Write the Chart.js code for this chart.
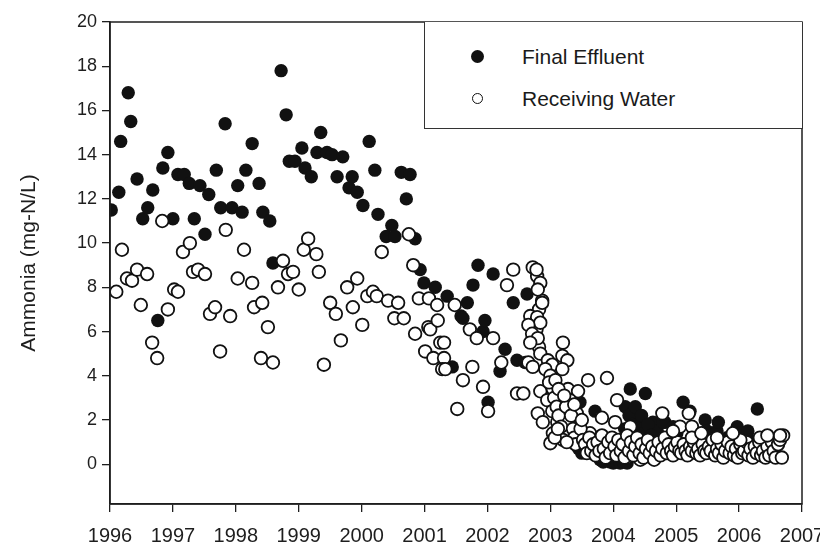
<!DOCTYPE html>
<html>
<head>
<meta charset="utf-8">
<script src="https://cdn.jsdelivr.net/npm/chart.js@4.4.1/dist/chart.umd.min.js"></script>
<style>
  body { margin: 0; background: #fff; }
  #wrap { position: relative; width: 820px; height: 546px; }
  #legendBox {
    position: absolute; left: 424px; top: 22px; width: 377px; height: 106px;
    border: 1.5px solid #333; border-top: none; background: #fff;
    font-family: "Liberation Sans", Arial, sans-serif; font-size: 21px; color: #1a1a1a;
  }
  .row { position: absolute; left: 0; height: 30px; line-height: 30px; }
  .row span.txt { position: absolute; left: 97px; white-space: nowrap; }
  .dot { position: absolute; left: 46px; top: 8px; width: 13px; height: 13px; border-radius: 50%; background: #111; }
  .ring { position: absolute; left: 47px; top: 9px; width: 9px; height: 9px; border-radius: 50%; background: #fff; border: 1.5px solid #111; }
</style>
</head>
<body>
<div id="wrap">
  <canvas id="ammoniaChart" width="820" height="546"></canvas>
  <div id="legendBox">
    <div class="row" style="top:20px"><span class="dot"></span><span class="txt" id="lg0"></span></div>
    <div class="row" style="top:62px"><span class="ring"></span><span class="txt" id="lg1"></span></div>
  </div>
</div>
<script>
// --- data (decimal year, mg-N/L) ---
const seriesNames = ['Final Effluent', 'Receiving Water'];
const xTicks = [1996, 1997, 1998, 1999, 2000, 2001, 2002, 2003, 2004, 2005, 2006, 2007];
const yTicks = [0, 2, 4, 6, 8, 10, 12, 14, 16, 18, 20];

const finalEffluent = [
  [1996.02,11.5],[1996.14,12.3],[1996.17,14.6],[1996.29,16.8],[1996.33,15.5],[1996.43,12.9],[1996.52,11.1],
  [1996.60,11.6],[1996.68,12.4],[1996.76,6.5],[1996.84,13.4],[1996.92,14.1],[1997.00,11.1],[1997.08,13.1],
  [1997.18,13.1],[1997.26,12.7],[1997.34,11.1],[1997.43,12.6],[1997.51,10.4],[1997.57,12.2],[1997.69,13.3],
  [1997.76,11.6],[1997.83,15.4],[1997.94,11.6],[1998.03,12.6],[1998.10,11.4],[1998.16,13.3],[1998.26,14.5],
  [1998.37,12.7],[1998.43,11.4],[1998.54,11.0],[1998.59,9.1],[1998.72,17.8],[1998.80,15.8],[1998.85,13.7],
  [1998.94,13.7],[1999.05,14.3],[1999.10,13.4],[1999.20,13.0],[1999.29,14.1],[1999.35,15.0],[1999.45,14.1],
  [1999.53,14.0],[1999.61,13.0],[1999.70,13.9],[1999.80,12.5],[1999.85,13.0],[1999.93,12.3],[2000.02,11.7],
  [2000.12,14.6],[2000.21,13.3],[2000.26,11.3],[2000.39,10.3],[2000.48,10.8],[2000.53,10.3],[2000.63,13.2],
  [2000.71,12.0],[2000.77,13.1],[2000.85,10.2],[2000.93,8.8],[2000.99,8.2],[2001.17,8.0],[2001.36,7.6],
  [2001.44,4.4],[2001.58,6.7],[2001.61,6.6],[2001.68,7.3],[2001.77,8.1],[2001.85,9.0],[2001.93,6.0],
  [2001.96,6.5],[2002.01,2.8],[2002.09,8.6],[2002.20,4.2],[2002.28,5.2],[2002.41,7.3],[2002.47,4.7],
  [2002.60,4.6],[2002.63,7.7],
  [2003.45,0.7],[2003.47,2.8],[2003.50,0.5],[2003.71,2.4],[2003.79,0.2],[2003.84,0.1],[2003.90,0.3],
  [2003.95,0.1],[2004.00,0.05],[2004.05,0.1],[2004.11,0.05],[2004.16,0.1],[2004.22,0.05],[2004.16,0.8],
  [2004.19,2.6],[2004.27,3.4],[2004.32,2.4],[2004.27,1.4],[2004.38,0.5],[2004.43,2.0],[2004.51,3.2],
  [2004.63,1.9],[2004.70,1.5],[2004.82,1.9],[2004.25,2.2],[2004.30,1.8],[2004.35,2.6],[2004.40,1.6],
  [2004.45,2.2],[2004.33,1.0],[2004.48,1.4],[2004.55,1.8],[2004.60,1.3],[2004.18,1.6],[2004.38,0.7],
  [2004.54,1.1],[2004.79,1.9],[2004.95,1.7],[2005.01,1.4],[2005.11,2.8],[2005.22,2.4],[2005.38,1.1],
  [2005.46,2.0],[2005.49,1.5],[2005.54,1.3],[2005.65,1.5],[2005.67,1.9],[2005.70,1.0],[2005.81,1.2],
  [2005.86,1.2],[2005.97,1.7],[2006.02,1.4],[2006.14,1.5],[2006.17,1.1],[2006.29,2.5],[2006.33,1.0]
];

const receivingWater = [
  [1996.10,7.8],[1996.19,9.7],[1996.27,8.4],[1996.35,8.3],[1996.43,8.8],[1996.49,7.2],[1996.59,8.6],
  [1996.67,5.5],[1996.75,4.8],[1996.83,11.0],[1996.92,7.0],[1997.02,7.9],[1997.08,7.8],[1997.16,9.6],
  [1997.27,10.0],[1997.32,8.7],[1997.40,8.8],[1997.51,8.6],[1997.59,6.8],[1997.67,7.1],[1997.75,5.1],
  [1997.84,10.6],[1997.91,6.7],[1998.03,8.4],[1998.13,9.7],[1998.26,8.2],[1998.29,7.1],[1998.42,7.3],
  [1998.40,4.8],[1998.51,6.2],[1998.59,4.6],[1998.67,8.0],[1998.75,9.2],[1998.83,8.6],[1998.91,8.7],
  [1999.00,7.9],[1999.08,9.7],[1999.15,10.2],[1999.28,9.5],[1999.32,8.7],[1999.40,4.5],[1999.50,7.3],
  [1999.59,6.8],[1999.67,5.6],[1999.77,8.0],[1999.86,7.1],[1999.93,8.4],[2000.01,6.3],[2000.09,7.6],
  [2000.18,7.8],[2000.24,7.6],[2000.32,9.6],[2000.42,7.4],[2000.52,6.6],[2000.58,7.3],[2000.67,6.6],
  [2000.75,10.4],[2000.82,9.0],[2000.85,5.9],[2000.91,7.5],[2001.01,5.1],[2001.07,7.5],[2001.20,7.2],
  [2001.06,6.2],[2001.09,6.1],[2001.21,6.5],[2001.14,4.8],[2001.25,5.5],[2001.31,5.5],[2001.31,4.8],
  [2001.28,4.3],[2001.33,4.3],[2001.48,7.2],[2001.72,6.1],[2001.83,5.7],[2002.09,5.7],[2001.61,3.8],
  [2001.76,4.4],[2001.52,2.5],[2001.93,3.5],[2002.01,2.4],[2002.22,4.6],[2002.31,8.1],[2002.41,8.8],
  [2002.47,3.2],[2002.57,3.2],[2002.65,4.6],[2002.72,8.9],[2002.79,8.5],[2002.84,8.2],[2002.87,7.4],
  [2002.78,8.8],[2002.80,7.9],[2002.82,7.0],[2002.78,6.1],[2002.82,5.3],
  [2002.87,7.3],[2002.68,6.7],[2002.79,6.65],[2002.84,6.4],[2002.65,6.3],[2002.71,5.9],[2002.80,5.7],
  [2002.68,5.5],[2003.20,5.5],[2002.84,5.0],[2003.19,4.9],[2003.27,4.7],[2002.72,4.4],[2002.96,4.7],
  [2003.03,4.5],[2002.92,4.3],[2003.19,4.3],[2003.00,4.0],[2003.60,3.8],[2003.90,3.9],[2002.84,3.3],
  [2003.04,3.4],[2003.28,3.4],[2003.44,3.3],[2002.95,2.9],[2003.15,2.9],[2003.31,2.9],[2002.80,2.3],
  [2003.03,2.4],[2003.20,2.4],[2003.42,2.3],[2002.88,1.9],[2003.11,1.9],[2003.28,2.0],[2003.04,1.4],
  [2003.23,1.4],[2003.44,1.45],[2003.00,0.95],[2003.20,1.1],[2003.63,1.4],[2004.06,2.9],[2003.82,2.1],
  [2004.03,1.9],[2004.27,1.7],[2004.51,1.1],[2004.78,2.3],[2003.58,0.95],[2003.74,0.8],[2003.90,1.0],
  [2004.11,0.8],[2004.32,0.95],[2004.63,0.95],[2004.86,0.8],[2003.68,0.5],[2003.84,0.55],[2004.22,0.3],
  [2004.43,0.2],[2004.62,0.3],
  [2003.06,3.0],[2003.10,2.6],[2003.13,2.2],[2003.17,1.7],[2003.25,2.6],[2003.33,2.2],[2003.36,1.6],
  [2003.38,1.2],[2003.40,0.9],[2003.48,1.6],[2003.52,1.1],[2003.07,1.2],[2003.12,1.6],[2003.26,1.0],
  [2002.98,3.7],[2003.08,3.8],[2003.13,3.4],[2003.22,3.1],[2003.38,2.7],[2003.50,2.0],
  [2003.55,0.9],[2003.58,0.5],[2003.62,1.2],[2003.65,0.6],[2003.68,0.9],[2003.72,0.4],[2003.75,1.0],
  [2003.78,0.6],[2003.82,1.3],[2003.85,0.7],[2003.88,0.3],[2003.92,1.0],[2003.95,0.5],[2003.98,1.2],
  [2004.02,0.8],[2004.05,0.4],[2004.08,1.1],[2004.12,0.6],[2004.15,0.9],[2004.18,0.3],[2004.22,1.3],
  [2004.25,0.6],[2004.28,1.0],[2004.32,0.4],[2004.35,0.8],[2004.38,1.2],[2004.42,0.5],[2004.45,0.9],
  [2004.48,0.3],[2004.52,0.7],[2004.55,1.1],[2004.58,0.5],[2004.62,0.8],[2004.65,0.2],[2004.68,0.6],
  [2004.72,1.0],[2004.75,0.4],[2004.78,0.7],[2004.82,1.2],[2004.85,0.5],[2004.88,0.9],[2004.92,0.6],
  [2004.95,0.4],[2004.98,0.8],[2005.02,1.0],[2005.05,0.6],[2005.08,0.5],[2005.12,0.9],[2005.15,0.6],
  [2005.18,0.4],[2005.22,0.8],[2005.25,0.6],[2005.28,1.0],[2005.32,0.5],[2005.35,0.7],[2005.38,0.4],
  [2005.42,0.9],[2005.45,0.6],[2005.48,0.5],[2005.52,0.8],[2005.55,0.6],[2005.58,1.1],[2005.62,0.4],
  [2005.65,0.7],[2005.68,0.5],[2005.72,0.9],[2005.75,0.3],[2005.78,0.6],[2005.82,1.0],[2005.85,0.5],
  [2005.88,0.8],[2005.92,0.4],[2005.95,0.7],[2005.98,0.3],[2006.02,0.9],[2006.05,0.5],[2006.08,0.6],
  [2006.12,1.0],[2006.15,0.4],[2006.18,0.7],[2006.22,0.3],[2006.25,0.8],[2006.28,0.5],[2006.32,1.0],
  [2006.35,0.4],[2006.38,0.6],[2006.42,0.3],[2006.45,0.8],[2006.48,0.4],[2006.52,1.0],[2006.55,0.6],
  [2006.58,0.3],[2006.62,0.9],[2006.65,1.1],[2006.68,0.3],[2006.70,1.3],
  [2005.06,1.7],[2005.25,1.7],[2005.25,1.2],[2005.65,1.2],[2006.02,1.1],[2006.33,1.2],[2006.65,1.3],
  [2005.20,2.3],[2004.95,1.5],[2005.40,1.4],[2005.90,1.4],[2006.45,1.3]
];

const FONT = '"Liberation Sans", Arial, Helvetica, sans-serif';
const INK = '#1e1e1e';

document.getElementById('lg0').textContent = seriesNames[0];
document.getElementById('lg1').textContent = seriesNames[1];

function toPoints(arr) {
  return arr.map(p => ({ x: p[0], y: p[1] }));
}

// frame round the plot area (top + right sides too)
const framePlugin = {
  id: 'frame',
  afterDraw(chart) {
    const a = chart.chartArea;
    const ctx = chart.ctx;
    ctx.save();
    ctx.strokeStyle = INK;
    ctx.lineWidth = 1.5;
    ctx.strokeRect(a.left, a.top, a.right - a.left, a.bottom - a.top);
    ctx.restore();
  }
};

const ctx = document.getElementById('ammoniaChart').getContext('2d');
new Chart(ctx, {
  type: 'scatter',
  data: {
    datasets: [
      {
        label: seriesNames[0],
        data: toPoints(finalEffluent),
        pointRadius: 6.7,
        pointBackgroundColor: '#111',
        pointBorderColor: '#111',
        pointBorderWidth: 0,
        order: 2
      },
      {
        label: seriesNames[1],
        data: toPoints(receivingWater),
        pointRadius: 6.3,
        pointBackgroundColor: '#fff',
        pointBorderColor: '#111',
        pointBorderWidth: 1.8,
        order: 1
      }
    ]
  },
  options: {
    responsive: false,
    animation: false,
    devicePixelRatio: 1,
    layout: { padding: { top: 22, right: 18, left: 0, bottom: 0 } },
    plugins: {
      legend: { display: false },
      tooltip: { enabled: false }
    },
    scales: {
      x: {
        type: 'linear',
        min: 1996,
        max: 2007,
        afterBuildTicks: s => { s.ticks = xTicks.map(v => ({ value: v })); },
        afterFit: s => { s.height = 42; s.paddingLeft = 0; s.paddingRight = 0; },
        ticks: {
          callback: v => String(v),
          font: { size: 20, family: FONT },
          color: INK,
          padding: 12,
          maxRotation: 0,
          autoSkip: false
        },
        grid: { display: true, drawOnChartArea: false, drawTicks: true, tickLength: 8, color: INK, lineWidth: 1.3 },
        border: { display: true, color: INK, width: 1.5 }
      },
      y: {
        type: 'linear',
        min: -1.8,
        max: 20,
        afterBuildTicks: s => { s.ticks = yTicks.map(v => ({ value: v })); },
        afterFit: s => { s.width = 110; s.paddingTop = 0; s.paddingBottom = 0; },
        ticks: {
          font: { size: 18, family: FONT },
          color: INK,
          padding: 5
        },
        grid: { display: true, drawOnChartArea: false, drawTicks: true, tickLength: 8, color: INK, lineWidth: 1.3 },
        border: { display: true, color: INK, width: 1.5 },
        title: {
          display: true,
          text: 'Ammonia (mg-N/L)',
          font: { size: 21, family: FONT },
          color: INK,
          padding: { top: 17, bottom: 0 }
        }
      }
    }
  },
  plugins: [framePlugin]
});
</script>
</body>
</html>
